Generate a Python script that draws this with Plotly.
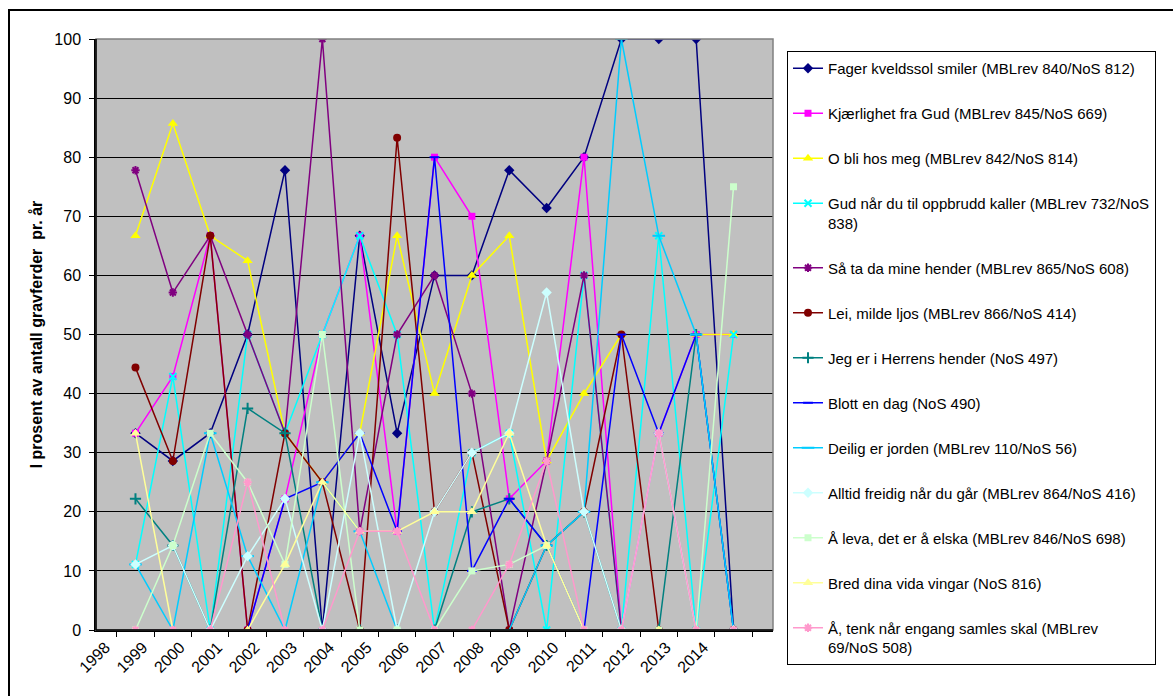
import plotly.graph_objects as go

years = [str(y) for y in range(1998, 2015)]

fager = [33.3, 28.6, 33.3, 50, 77.8, 0, 66.7, 33.3, 60, 60, 77.8, 71.4, 80, 100, 100, 100, 0]
kjaerlighet = [33.3, 42.9, 66.7, 0, 22.2, 50, 66.7, 16.7, 80, 70, 22.2, 28.6, 80, 0, 33.3, 50, 50]
obli = [66.7, 85.7, 66.7, 62.5, 33.3, 25, 33.3, 66.7, 40, 60, 66.7, 28.6, 40, 50, None, 50, 50]
gud = [11.1, 42.9, 0, 50, 33.3, 50, 66.7, 50, 0, 30, 33.3, 0, 60, 0, 66.7, 0, 50]
saata = [77.8, 57.1, 66.7, 50, 33.3, 100, 16.7, 50, 60, 40, 0, 28.6, 60, 0, 0, 0, 0]
lei = [44.4, 28.6, 66.7, 0, 33.3, 25, 0, 83.3, 20, 30, 0, 14.3, 20, 50, 0, 0, 0]
jeg = [22.2, 14.3, 0, 37.5, 33.3, 0, 0, 0, 0, 20, 22.2, 14.3, 20, 0, 0, 50, 0]
blott = [0, 0, 0, 0, 22.2, 25, 33.3, 16.7, 80, 10, 22.2, 14.3, 0, 50, 33.3, 50, 0]
deilig = [11.1, 0, 33.3, 12.5, 0, 25, 16.7, 0, 0, 0, 0, 14.3, 20, 100, 66.7, 50, 0]
alltid = [11.1, 14.3, 0, 12.5, 22.2, 0, 33.3, 0, 20, 30, 33.3, 57.1, 20, 0, 33.3, 0, 0]
aleva = [0, 14.3, 33.3, 25, 11.1, 50, 0, 0, 0, 10, 11.1, 14.3, 0, 0, 0, 0, 75]
bred = [33.3, 0, 0, 0, 11.1, 25, 16.7, 16.7, 20, 20, 33.3, 14.3, 0, 0, 0, 0, 0]
atenk = [0, 0, 0, 25, 0, 0, 16.7, 16.7, 0, 0, 11.1, 28.6, 0, 0, 33.3, 0, 0]

series = [
    ("Fager kveldssol smiler (MBLrev 840/NoS 812)", fager, "#000080", "diamond", 8),
    ("Kjærlighet fra Gud (MBLrev 845/NoS 669)", kjaerlighet, "#FF00FF", "square", 7),
    ("O bli hos meg (MBLrev 842/NoS 814)", obli, "#FFFF00", "triangle-up", 9),
    ("Gud når du til oppbrudd kaller (MBLrev 732/NoS<br>838)", gud, "#00FFFF", "x-thin", 7),
    ("Så ta da mine hender (MBLrev 865/NoS 608)", saata, "#800080", "asterisk", 7),
    ("Lei, milde ljos (MBLrev 866/NoS 414)", lei, "#800000", "circle", 8),
    ("Jeg er i Herrens hender (NoS 497)", jeg, "#008080", "cross-thin", 8),
    ("Blott en dag (NoS 490)", blott, "#0000FF", "line-ew", 7),
    ("Deilig er jorden (MBLrev 110/NoS 56)", deilig, "#00CCFF", "line-ew", 9),
    ("Alltid freidig når du går (MBLrev 864/NoS 416)", alltid, "#CCFFFF", "diamond", 8),
    ("Å leva, det er å elska (MBLrev 846/NoS 698)", aleva, "#CCFFCC", "square", 7),
    ("Bred dina vida vingar (NoS 816)", bred, "#FFFF99", "triangle-up", 9),
    ("Å, tenk når engang samles skal (MBLrev<br>69/NoS 508)", atenk, "#FF99CC", "asterisk", 7),
]

fig = go.Figure()
for i, (name, vals, col, sym, size) in enumerate(series):
    thin = sym in ("x-thin", "asterisk", "cross-thin", "line-ew")
    fig.add_trace(go.Scatter(
        x=years, y=vals, name=name, mode="lines+markers",
        line=dict(color=col, width=1.5),
        marker=dict(symbol=sym, size=size, color=col,
                    line=dict(color=col, width=2 if thin else 0)),
        connectgaps=False, legendgroup=f"g{i}",
    ))

L, R, T, B = 96, 773, 39, 630
W, H = 1173, 696

fig.update_layout(
    width=W, height=H,
    margin=dict(l=L, r=W - R, t=T, b=H - B, autoexpand=False),
    paper_bgcolor="white", plot_bgcolor="#C0C0C0",
    font=dict(family="Liberation Sans, Arial, sans-serif", size=16, color="black"),
    showlegend=True,
    legend=dict(
        x=(787 - L) / (R - L), xanchor="left",
        yref="container", y=1 - 51 / H, yanchor="top",
        bgcolor="white", bordercolor="black", borderwidth=1,
        font=dict(size=15), tracegroupgap=22.5, maxheight=690, valign="top",
    ),
    xaxis=dict(
        type="category", tickangle=-45, tickson="boundaries", ticks="outside",
        ticklen=5, tickcolor="black", showline=True, linecolor="black", linewidth=1.5,
        showgrid=False, tickfont=dict(size=16), ticklabelshift=-30,
    ),
    yaxis=dict(
        range=[0, 100], tickvals=list(range(0, 101, 10)), ticks="outside", ticklen=5,
        tickcolor="black", showline=True, linecolor="black", linewidth=1.5,
        showgrid=True, gridcolor="black", gridwidth=1.3, zeroline=False,
        tickfont=dict(size=16), ticklabelstandoff=5,
        title=dict(text="<b>I prosent av antall gravferder  pr. år</b>", font=dict(size=16), standoff=8),
    ),
    shapes=[
        dict(type="rect", xref="paper", yref="paper", x0=0, x1=1, y0=0, y1=1,
             line=dict(color="#808080", width=1.5), layer="above"),
        dict(type="line", xref="paper", yref="paper", x0=0, x1=0, y0=0, y1=1,
             line=dict(color="black", width=1.5), layer="above"),
        dict(type="line", xref="paper", yref="paper", x0=0, x1=1, y0=0, y1=0,
             line=dict(color="black", width=1.5), layer="above"),
        dict(type="rect", xref="paper", yref="paper",
             x0=(9 - L) / (R - L), x1=(1200 - L) / (R - L),
             y0=(B - 720) / (B - T), y1=(B - 10) / (B - T),
             line=dict(color="black", width=2), layer="above"),
    ],
)

fig.write_html(
    "out.html",
    config={"displayModeBar": False},
    post_script="document.body.style.margin='0px';document.body.style.overflow='hidden';",
)
